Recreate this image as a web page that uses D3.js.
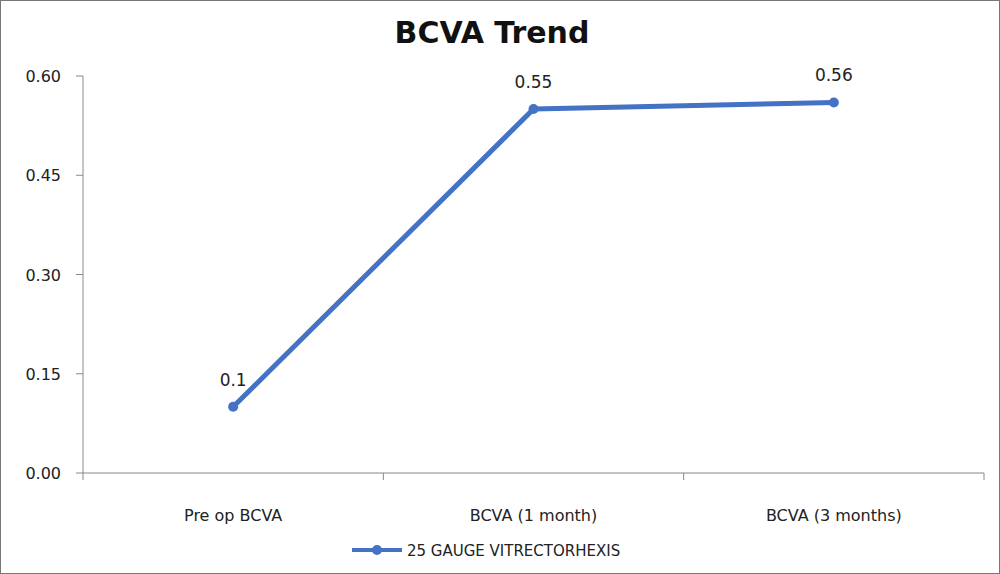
<!DOCTYPE html>
<html><head><meta charset="utf-8">
<script src="https://cdn.jsdelivr.net/npm/d3@7"></script>
<style>body{margin:0;background:#fff}svg{display:block}</style>
</head><body>
<script>
const categories = ["Pre op BCVA", "BCVA (1 month)", "BCVA (3 months)"];
const values = [0.1, 0.55, 0.56];
const labels = ["0.1", "0.55", "0.56"];
const yTicks = [0, 0.15, 0.30, 0.45, 0.60];
const seriesName = "25 GAUGE VITRECTORHEXIS";

const W = 1000, H = 574;
const svg = d3.select("body").append("svg").attr("width", W).attr("height", H);
svg.append("rect").attr("x",0.5).attr("y",0.5).attr("width",W-1).attr("height",H-1).attr("fill","#fff").attr("stroke","#777");

const x = d3.scaleBand().domain(categories).range([83, 984]);
const y = d3.scaleLinear().domain([0, 0.6]).range([473, 76]);
const font = "'DejaVu Sans', Verdana, sans-serif";

svg.append("text").attr("x", 492).attr("y", 43).attr("text-anchor","middle")
  .attr("font-family","'DejaVu Sans', sans-serif").attr("font-weight","bold").attr("font-size",30)
  .attr("fill","#111").text("BCVA Trend");

svg.append("line").attr("x1",83).attr("x2",83).attr("y1",76).attr("y2",473).attr("stroke","#888");
yTicks.forEach(t => {
  svg.append("line").attr("x1",76).attr("x2",83).attr("y1",y(t)).attr("y2",y(t)).attr("stroke","#888");
  svg.append("text").attr("x",61).attr("y",y(t)+6).attr("text-anchor","end")
    .attr("font-family",font).attr("font-size",16).attr("fill","#222").text(t.toFixed(2));
});
svg.append("line").attr("x1",83).attr("x2",984).attr("y1",473).attr("y2",473).attr("stroke","#888");
const bounds = categories.map(c => x(c)).concat([x.range()[1]]);
bounds.forEach(b => svg.append("line").attr("x1",b).attr("x2",b).attr("y1",473).attr("y2",480).attr("stroke","#888"));
categories.forEach(c => svg.append("text").attr("x", x(c)+x.bandwidth()/2).attr("y",521).attr("text-anchor","middle")
  .attr("font-family",font).attr("font-size",16).attr("fill","#222").text(c));

const cx = c => x(c) + x.bandwidth()/2;
const color = "#4472C4";
svg.append("path").datum(values).attr("fill","none").attr("stroke",color).attr("stroke-width",5)
  .attr("stroke-linejoin","round")
  .attr("d", d3.line().x((d,i)=>cx(categories[i])).y(d=>y(d)));
values.forEach((v,i) => {
  svg.append("circle").attr("cx",cx(categories[i])).attr("cy",y(v)).attr("r",5).attr("fill",color);
  svg.append("text").attr("x",cx(categories[i])).attr("y",y(v)-21).attr("text-anchor","middle")
    .attr("font-family",font).attr("font-size",17).attr("fill","#222").text(labels[i]);
});

svg.append("line").attr("x1",352).attr("x2",402).attr("y1",550).attr("y2",550).attr("stroke",color).attr("stroke-width",4);
svg.append("circle").attr("cx",377).attr("cy",550).attr("r",5).attr("fill",color);
svg.append("text").attr("x",407).attr("y",556).attr("font-family",font).attr("font-size",15).attr("fill","#222").text(seriesName);
</script>
</body></html>
